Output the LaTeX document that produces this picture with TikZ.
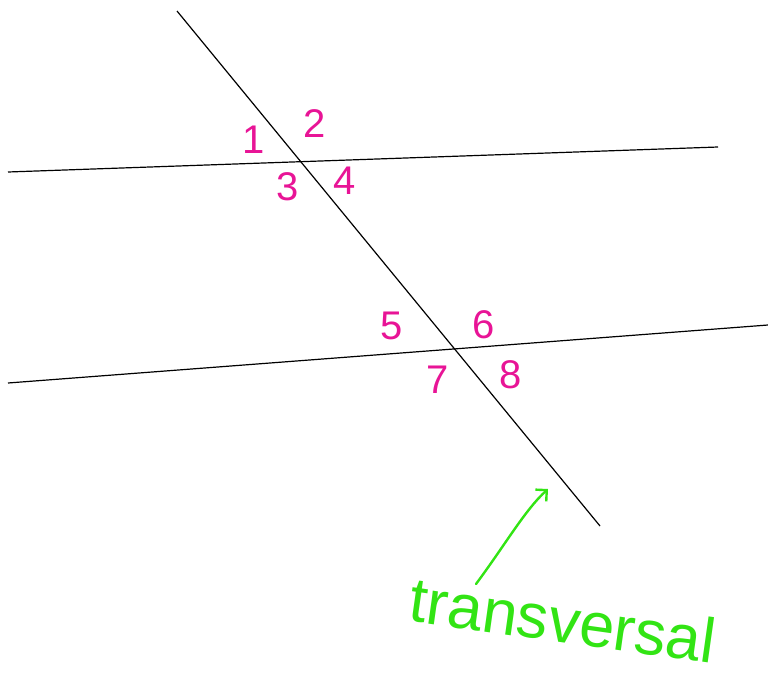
\documentclass[tikz,border=0pt]{standalone}
\usepackage{fontspec}
\setmainfont{Liberation Sans}
\usetikzlibrary{arrows.meta}
\definecolor{mag}{RGB}{232,20,150}
\definecolor{grn}{RGB}{50,228,20}
\tikzset{
  geo/.style={draw=black, line width=1.2pt},
  lbl/.style={text=mag, font=\fontsize{40}{42}\selectfont, inner sep=0pt},
}
\begin{document}
\begin{tikzpicture}[x=1pt,y=-1pt]
\useasboundingbox (0,0) rectangle (768,682);
\coordinate (t1) at (177,11);
\coordinate (t2) at (600,526);
\coordinate (a1) at (8,172);
\coordinate (a2) at (718,147);
\coordinate (b1) at (8,383);
\coordinate (b2) at (768,325);
\draw[geo] (t1) -- (t2);
\draw[geo] (a1) -- (a2);
\draw[geo] (b1) -- (b2);
\node[lbl] (n1) at (254,140) {1};
\node[lbl] (n2) at (315,124) {2};
\node[lbl] (n3) at (288,187) {3};
\node[lbl] (n4) at (345,181) {4};
\node[lbl] (n5) at (392,326) {5};
\node[lbl] (n6) at (484,325) {6};
\node[lbl] (n7) at (438,380) {7};
\node[lbl] (n8) at (511,375) {8};
\node[text=grn, font=\fontsize{63}{65}\selectfont, rotate=-8, inner sep=0pt] (tv) at (563,620) {transversal};
\coordinate (as) at (476,584);
\coordinate (ae) at (548,489);
\draw[draw=grn, line width=2.4pt, line cap=round, -{Straight Barb[length=8pt,width=16pt]}] (as) .. controls (505,545) and (525,510) .. (ae);
\end{tikzpicture}
\end{document}
